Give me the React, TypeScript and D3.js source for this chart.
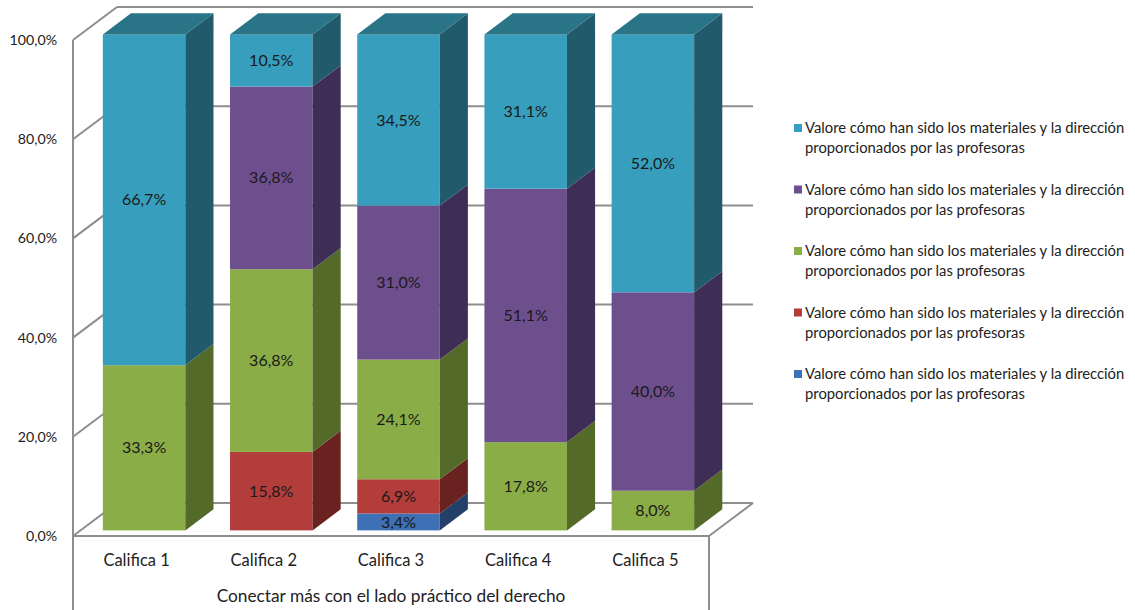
import React from "react";
import * as d3 from "d3";

const categories = ["Califica 1", "Califica 2", "Califica 3", "Califica 4", "Califica 5"];
const seriesName = "Valore cómo han sido los materiales y la dirección proporcionados por las profesoras";
// Stack order from the floor upward
const blueValues = [0, 0, 3.4, 0, 0];
const redValues = [0, 15.8, 6.9, 0, 0];
const greenValues = [33.3, 36.8, 24.1, 17.8, 8.0];
const purpleValues = [0, 36.8, 31.0, 51.1, 40.0];
const cyanValues = [66.7, 10.5, 34.5, 31.1, 52.0];
const yTicks = [0, 20, 40, 60, 80, 100];
const axisTitle = "Conectar más con el lado práctico del derecho";

const series = [
  { key: "blue", values: blueValues, front: "#3D70B5", side: "#243F68", top: "#2F5A92" },
  { key: "red", values: redValues, front: "#B33D3B", side: "#6A2220", top: "#8E2F2D" },
  { key: "green", values: greenValues, front: "#8AAD47", side: "#536A29", top: "#6E8C36" },
  { key: "purple", values: purpleValues, front: "#6E4F8E", side: "#3E2D55", top: "#573E72" },
  { key: "cyan", values: cyanValues, front: "#379FBD", side: "#215A6B", top: "#2A7487" },
];
const legendOrder = ["cyan", "purple", "green", "red", "blue"];

const FONT = "Lato, 'Open Sans', sans-serif";

export default function App() {
  const W = 1135, H = 610;
  const x0 = 73, x1 = 709;
  const depthX = 44, depthY = -33;
  const frontShift = 0.17, barDepth = 0.64;
  const barW = 82.5;

  const x = d3.scaleBand<string>().domain(categories).range([x0, x1]).paddingInner(0).paddingOuter(0);
  const y = d3.scaleLinear().domain([0, 100]).range([536, 40]);

  const grid = "#8E8E8E";
  const sx = frontShift * depthX, sy = frontShift * depthY;
  const bdx = barDepth * depthX, bdy = barDepth * depthY;

  const bars = categories.map((c, i) => {
    const total = d3.sum(series, (s) => s.values[i]);
    const left = (x(c) as number) + (x.bandwidth() - barW) / 2 + sx;
    const right = left + barW;
    let acc = 0;
    const segs = series
      .map((s) => {
        const v = s.values[i];
        const start = acc;
        acc += (v / total) * 100;
        return { s, v, start, end: acc };
      })
      .filter((d) => d.v > 0);
    return { c, left, right, segs };
  });

  const words = seriesName.split(" ");
  const line1 = words.slice(0, 9).join(" ");
  const line2 = words.slice(9).join(" ");

  return (
    <svg width={W} height={H} style={{ position: "absolute", left: 0, top: 0, background: "#fff" }}>
      {/* walls and floor */}
      <g stroke={grid} strokeWidth={2} fill="none">
        {yTicks.map((t) => (
          <g key={t}>
            <line x1={x0} y1={y(t)} x2={x0 + depthX} y2={y(t) + depthY} />
            <line x1={x0 + depthX} y1={y(t) + depthY} x2={x1 + depthX} y2={y(t) + depthY} />
          </g>
        ))}
        <line x1={x0} y1={y(0)} x2={x1} y2={y(0)} />
        <line x1={x1} y1={y(0)} x2={x1 + depthX} y2={y(0) + depthY} />
        <line x1={x0} y1={y(100)} x2={x0} y2={610} />
        <line x1={x1} y1={y(0)} x2={x1} y2={610} />
      </g>

      {/* stacked 3D columns */}
      {bars.map((b) => (
        <g key={b.c}>
          {b.segs.map((d, j) => {
            const yb = y(d.start) + sy;
            const yt = y(d.end) + sy;
            const isTop = j === b.segs.length - 1;
            return (
              <g key={d.s.key}>
                <rect x={b.left} y={yt} width={barW} height={yb - yt} fill={d.s.front} />
                <polygon
                  points={`${b.right},${yb} ${b.right + bdx},${yb + bdy} ${b.right + bdx},${yt + bdy} ${b.right},${yt}`}
                  fill={d.s.side}
                />
                {isTop && (
                  <polygon
                    points={`${b.left},${yt} ${b.left + bdx},${yt + bdy} ${b.right + bdx},${yt + bdy} ${b.right},${yt}`}
                    fill={d.s.top}
                  />
                )}
              </g>
            );
          })}
          {b.segs.map((d) => (
            <text
              key={d.s.key + "-lbl"}
              x={(b.left + b.right) / 2}
              y={(y(d.start) + y(d.end)) / 2 + sy}
              dy="0.35em"
              textAnchor="middle"
              fontFamily={FONT}
              fontSize={16}
              fill="#1a1a1a"
            >
              {d.v.toFixed(1).replace(".", ",")}%
            </text>
          ))}
        </g>
      ))}

      {/* value axis labels */}
      {yTicks.map((t) => (
        <text
          key={"t" + t}
          x={57}
          y={y(t)}
          dy="0.35em"
          textAnchor="end"
          fontFamily={FONT}
          fontSize={14.2}
          fill="#222"
        >
          {t.toFixed(1).replace(".", ",")}%
        </text>
      ))}

      {/* category labels */}
      {categories.map((c) => (
        <text
          key={"c" + c}
          x={(x(c) as number) + x.bandwidth() / 2}
          y={560}
          dy="0.35em"
          textAnchor="middle"
          fontFamily={FONT}
          fontSize={16.5}
          fill="#222"
        >
          {c}
        </text>
      ))}
      <text x={(x0 + x1) / 2} y={596} dy="0.35em" textAnchor="middle" fontFamily={FONT} fontSize={17.3} fill="#222">
        {axisTitle}
      </text>

      {/* legend */}
      {legendOrder.map((k, i) => {
        const s = series.find((d) => d.key === k)!;
        const ly = 128 + i * 61.5;
        return (
          <g key={"lg" + k}>
            <rect x={794} y={ly - 4} width={8} height={8} fill={s.front} />
            <text x={805} y={ly} dy="0.35em" fontFamily={FONT} fontSize={14.8} fill="#222">
              {line1}
            </text>
            <text x={805} y={ly + 20} dy="0.35em" fontFamily={FONT} fontSize={14.8} fill="#222">
              {line2}
            </text>
          </g>
        );
      })}
    </svg>
  );
}
